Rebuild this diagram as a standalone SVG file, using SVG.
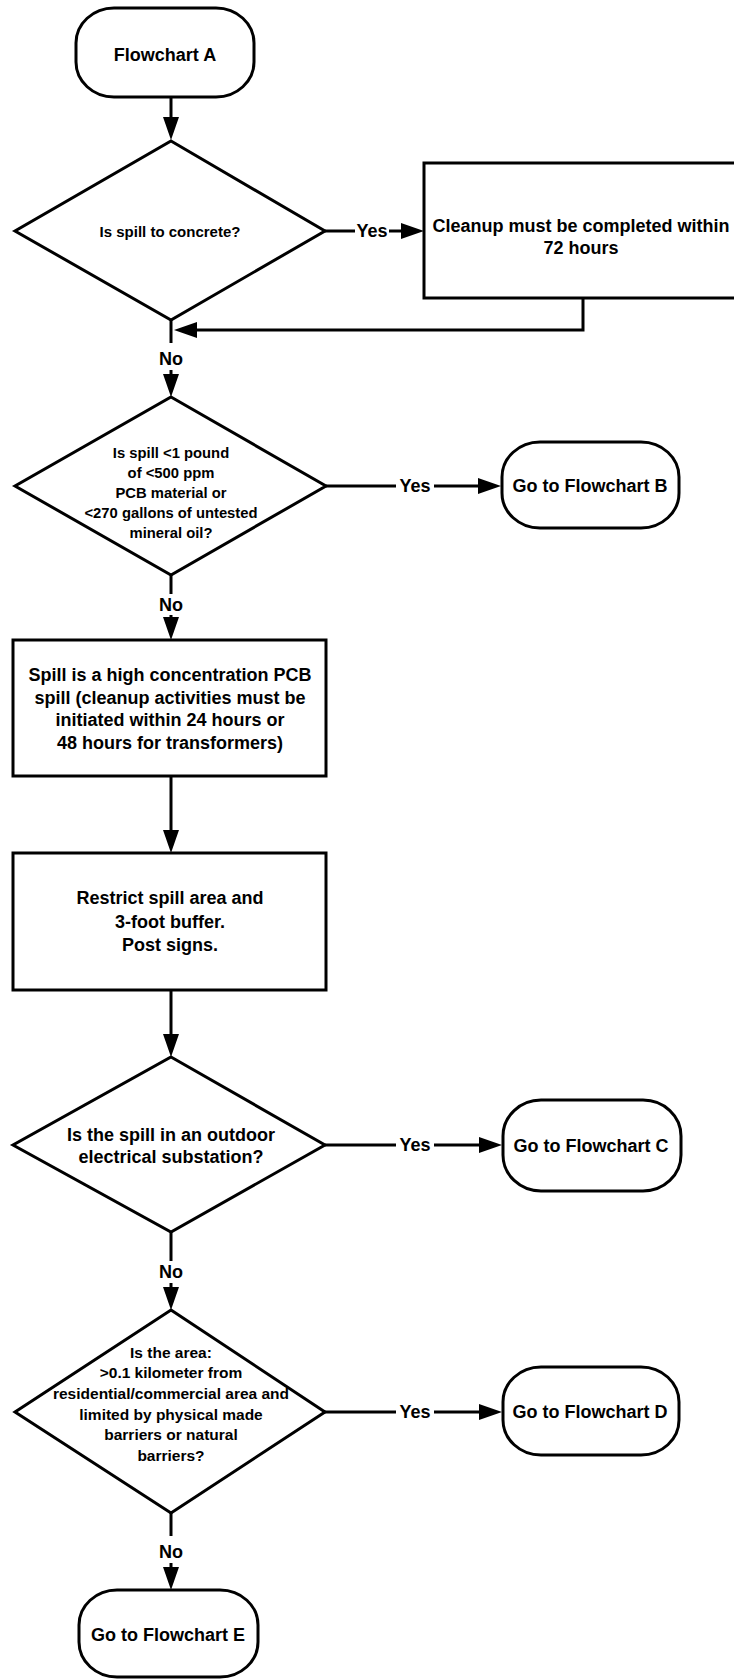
<svg xmlns="http://www.w3.org/2000/svg" width="734" height="1679" viewBox="0 0 734 1679">
  <style>
    .shape { fill: #ffffff; stroke: #000000; stroke-width: 3; }
    .wire { fill: none; stroke: #000000; stroke-width: 3; }
    text { font-family: "Liberation Sans", Arial, Helvetica, sans-serif; font-weight: bold; fill: #000000; text-anchor: middle; }
    .big { font-size: 18px; }
    .small { font-size: 15.5px; }
    .q1 { font-size: 15px; }
    .q2 { font-size: 14.8px; }
  </style>
  <defs>
    <marker id="head" markerUnits="userSpaceOnUse" viewBox="0 0 23 16" markerWidth="23" markerHeight="16" refX="2" refY="8" orient="auto">
      <path d="M0,0 L23,8 L0,16 Z" fill="#000000"/>
    </marker>
  </defs>

  <rect width="734" height="1679" fill="#ffffff"/>

  <!-- connectors -->
  <g id="connectors">
    <path class="wire" d="M171,97 V119" marker-end="url(#head)"/>
    <!-- concrete: yes -->
    <path class="wire" d="M325,231 H355"/>
    <text class="big" x="372" y="237">Yes</text>
    <path class="wire" d="M389,231 H403" marker-end="url(#head)"/>
    <!-- return from cleanup -->
    <path class="wire" d="M583,298 V330 H195" marker-end="url(#head)"/>
    <!-- concrete: no -->
    <path class="wire" d="M171,320 V343"/>
    <text class="big" x="171" y="365">No</text>
    <path class="wire" d="M171,370 V376" marker-end="url(#head)"/>
    <!-- small spill: yes -->
    <path class="wire" d="M326,486 H396"/>
    <text class="big" x="415" y="492">Yes</text>
    <path class="wire" d="M434,486 H480" marker-end="url(#head)"/>
    <!-- small spill: no -->
    <path class="wire" d="M171,575 V594"/>
    <text class="big" x="171" y="611">No</text>
    <path class="wire" d="M171,615 V619" marker-end="url(#head)"/>
    <!-- boxes -->
    <path class="wire" d="M171,776 V832" marker-end="url(#head)"/>
    <path class="wire" d="M171,990 V1036" marker-end="url(#head)"/>
    <!-- substation: yes -->
    <path class="wire" d="M325,1145 H396"/>
    <text class="big" x="415" y="1151">Yes</text>
    <path class="wire" d="M434,1145 H481" marker-end="url(#head)"/>
    <!-- substation: no -->
    <path class="wire" d="M171,1232 V1261"/>
    <text class="big" x="171" y="1278">No</text>
    <path class="wire" d="M171,1283 V1289" marker-end="url(#head)"/>
    <!-- area: yes -->
    <path class="wire" d="M325,1412 H396"/>
    <text class="big" x="415" y="1418">Yes</text>
    <path class="wire" d="M434,1412 H481" marker-end="url(#head)"/>
    <!-- area: no -->
    <path class="wire" d="M171,1513 V1536"/>
    <text class="big" x="171" y="1558">No</text>
    <path class="wire" d="M171,1563 V1569" marker-end="url(#head)"/>
  </g>

  <!-- start terminal -->
  <g id="flowchart-a">
    <rect class="shape" x="76" y="8" width="178" height="89" rx="38" ry="35"/>
    <text class="big" x="165" y="61">Flowchart A</text>
  </g>

  <!-- decision: concrete -->
  <g id="q-concrete">
    <polygon class="shape" points="171,141 325,231 171,320 15,231"/>
    <text class="q1" x="170" y="237">Is spill to concrete?</text>
  </g>

  <!-- cleanup deadline -->
  <g id="cleanup-72h">
    <rect class="shape" x="424" y="163" width="318" height="135"/>
    <text class="big" x="581" y="232">Cleanup must be completed within</text>
    <text class="big" x="581" y="254">72 hours</text>
  </g>

  <!-- decision: small spill -->
  <g id="q-small-spill">
    <polygon class="shape" points="171,397 326,486 171,575 15,486"/>
    <text class="q2" x="171" y="457.5">Is spill &lt;1 pound</text>
    <text class="q2" x="171" y="477.5">of &lt;500 ppm</text>
    <text class="q2" x="171" y="497.5">PCB material or</text>
    <text class="q2" x="171" y="517.5">&lt;270 gallons of untested</text>
    <text class="q2" x="171" y="537.5">mineral oil?</text>
  </g>

  <g id="flowchart-b">
    <rect class="shape" x="502" y="442" width="177" height="86" rx="38" ry="35"/>
    <text class="big" x="590" y="492">Go to Flowchart B</text>
  </g>

  <!-- high concentration spill -->
  <g id="high-concentration">
    <rect class="shape" x="13" y="640" width="313" height="136"/>
    <text class="big" x="170" y="681">Spill is a high concentration PCB</text>
    <text class="big" x="170" y="703.5">spill (cleanup activities must be</text>
    <text class="big" x="170" y="726">initiated within 24 hours or</text>
    <text class="big" x="170" y="749">48 hours for transformers)</text>
  </g>

  <!-- restrict area -->
  <g id="restrict-area">
    <rect class="shape" x="13" y="853" width="313" height="137"/>
    <text class="big" x="170" y="904">Restrict spill area and</text>
    <text class="big" x="170" y="927.5">3-foot buffer.</text>
    <text class="big" x="170" y="951">Post signs.</text>
  </g>

  <!-- decision: substation -->
  <g id="q-substation">
    <polygon class="shape" points="171,1057 325,1145 171,1232 13,1145"/>
    <text class="big" x="171" y="1141">Is the spill in an outdoor</text>
    <text class="big" x="171" y="1163">electrical substation?</text>
  </g>

  <g id="flowchart-c">
    <rect class="shape" x="503" y="1100" width="178" height="91" rx="38" ry="36"/>
    <text class="big" x="591" y="1152">Go to Flowchart C</text>
  </g>

  <!-- decision: remote area -->
  <g id="q-area">
    <polygon class="shape" points="171,1310 325,1412 171,1513 15,1412"/>
    <text class="small" x="171" y="1357.5">Is the area:</text>
    <text class="small" x="171" y="1378">&gt;0.1 kilometer from</text>
    <text class="small" x="171" y="1399">residential/commercial area and</text>
    <text class="small" x="171" y="1419.5">limited by physical made</text>
    <text class="small" x="171" y="1440">barriers or natural</text>
    <text class="small" x="171" y="1460.5">barriers?</text>
  </g>

  <g id="flowchart-d">
    <rect class="shape" x="503" y="1367" width="176" height="88" rx="38" ry="35"/>
    <text class="big" x="590" y="1418">Go to Flowchart D</text>
  </g>

  <g id="flowchart-e">
    <rect class="shape" x="79" y="1590" width="179" height="87" rx="38" ry="35"/>
    <text class="big" x="168" y="1641">Go to Flowchart E</text>
  </g>
</svg>
